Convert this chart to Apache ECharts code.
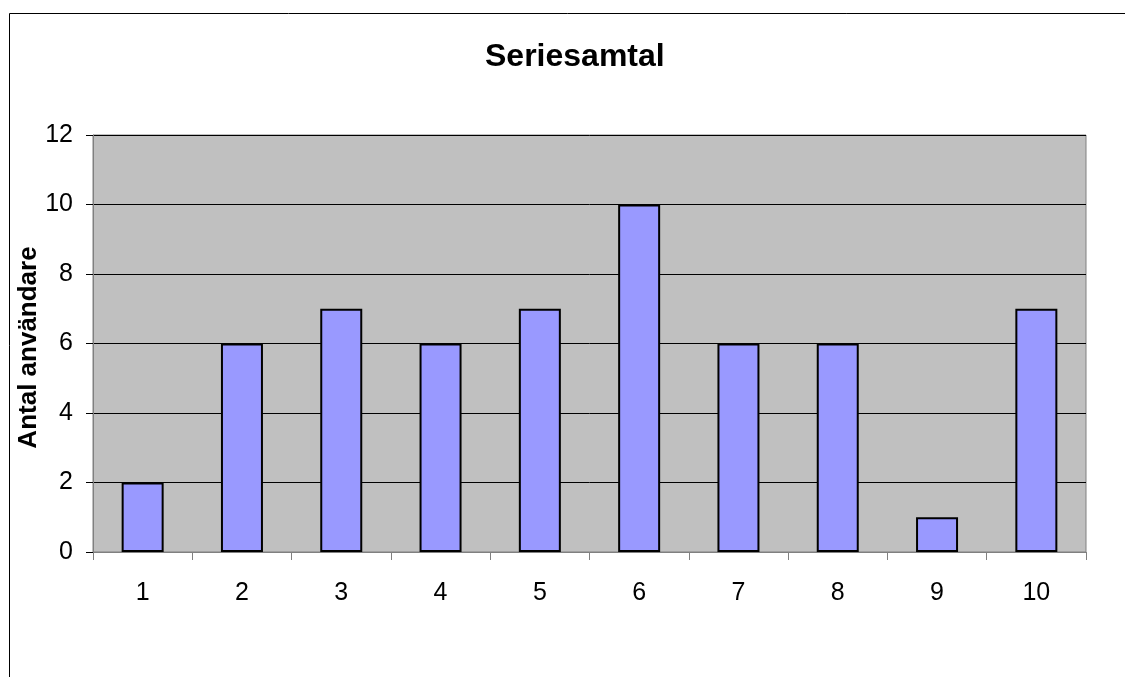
<!DOCTYPE html>
<html>
<head>
<meta charset="utf-8">
<script src="https://cdn.jsdelivr.net/npm/echarts@6/dist/echarts.min.js"></script>
<style>html,body{margin:0;padding:0;background:#fff;}#c{width:1125px;height:677px;}</style>
</head>
<body>
<div id="c"></div>
<script>
var categories = ['1','2','3','4','5','6','7','8','9','10'];
var values = [2, 6, 7, 6, 7, 10, 6, 6, 1, 7];
var titleText = 'Seriesamtal';
var yName = 'Antal användare';

var chart = echarts.init(document.getElementById('c'), null, {renderer: 'canvas'});
chart.setOption({
  animation: false,
  backgroundColor: '#fff',
  title: {
    text: titleText, left: 485, top: 41, itemGap: 0, padding: 0,
    textStyle: {fontFamily: 'Liberation Sans, Arial', fontSize: 32, fontWeight: 'bold', color: '#000'}
  },
  graphic: [{
    type: 'rect', left: 7, top: 11, z: -1, silent: true,
    shape: {width: 1200, height: 700},
    style: {fill: 'none', stroke: '#000', lineWidth: 1}
  }],
  grid: {
    left: 93, right: 39, top: 135, bottom: 125,
    show: true, backgroundColor: '#C0C0C0', borderColor: '#808080', borderWidth: 1
  },
  xAxis: {
    type: 'category', data: categories,
    axisLine: {lineStyle: {color: '#808080', width: 1}},
    axisTick: {show: true, length: 8, lineStyle: {color: '#808080'}},
    axisLabel: {margin: 29, fontFamily: 'Liberation Sans, Arial', fontSize: 25, color: '#000'}
  },
  yAxis: {
    type: 'value', min: 0, max: 12, interval: 2,
    name: yName, nameLocation: 'middle', nameGap: 51, nameRotate: 90,
    nameMoveOverlap: false,
    nameTextStyle: {fontFamily: 'Liberation Sans, Arial', fontSize: 26, fontWeight: 'bold', color: '#000', padding: [0, 8, 0, 0]},
    axisLine: {show: true, lineStyle: {color: '#808080'}},
    axisTick: {show: true, length: 7, lineStyle: {color: '#000'}},
    splitLine: {lineStyle: {color: '#000', width: 1}},
    axisLabel: {margin: 20, fontFamily: 'Liberation Sans, Arial', fontSize: 25, color: '#000'}
  },
  series: [{
    type: 'bar', data: values, barWidth: 42,
    itemStyle: {color: '#9999FF', borderColor: '#000', borderWidth: 2}
  }]
});
</script>
</body>
</html>
